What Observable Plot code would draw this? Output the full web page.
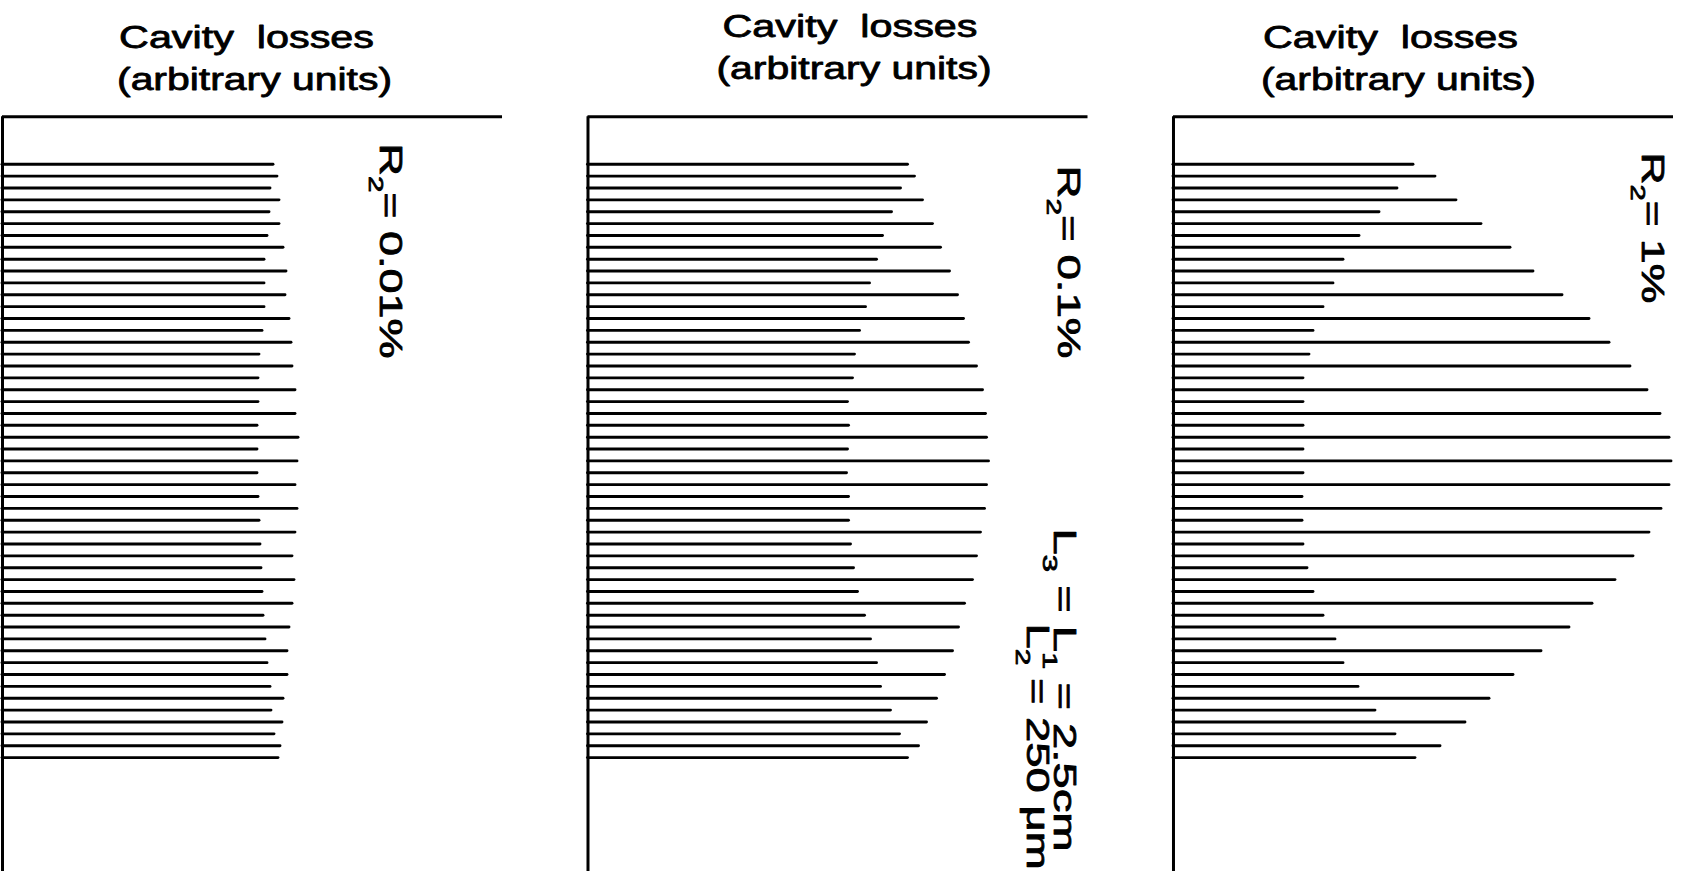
<!DOCTYPE html>
<html>
<head>
<meta charset="utf-8">
<script src="https://cdn.jsdelivr.net/npm/d3@7"></script>
<script src="https://cdn.jsdelivr.net/npm/@observablehq/plot@0.6"></script>
<style>
html, body { margin: 0; padding: 0; background: #fff; overflow: hidden; }
#chart { width: 1689px; height: 871px; position: relative; }
</style>
</head>
<body>
<div id="chart"></div>
<script>
// Mirror reflectivity of each panel
const reflectivities = ["0.01%", "0.1%", "1%"];

// Cavity losses (arbitrary units) of successive longitudinal modes, top to bottom
const lossR2_001 = [27.1, 27.5, 26.8, 27.7, 26.7, 27.7, 26.5, 28.1, 26.2, 28.4, 26.2, 28.3, 26.2, 28.7, 26.0, 28.9, 25.7, 29.0, 25.6, 29.3, 25.6, 29.3,
                    25.5, 29.6, 25.5, 29.5, 25.5, 29.3, 25.6, 29.5, 25.7, 29.3, 25.8, 29.0, 25.9, 29.2, 26.0, 29.0, 26.1, 28.7, 26.3, 28.5, 26.5, 28.5,
                    26.8, 28.1, 26.9, 28.0, 27.2, 27.8, 27.6];
const lossR2_01 = [32.0, 32.7, 31.3, 33.5, 30.4, 34.5, 29.5, 35.3, 28.9, 36.2, 28.2, 37.0, 27.8, 37.6, 27.2, 38.1, 26.7, 38.9, 26.5, 39.5, 26.0, 39.8,
                   26.1, 39.9, 26.0, 40.1, 25.9, 39.9, 26.1, 39.7, 26.1, 39.3, 26.3, 38.9, 26.6, 38.5, 27.0, 37.7, 27.7, 37.1, 28.3, 36.5, 28.9, 35.7,
                   29.3, 34.9, 30.3, 33.9, 31.2, 33.1, 32.0];
const lossR2_1 = [24.0, 26.2, 22.4, 28.3, 20.6, 30.8, 18.6, 33.7, 17.0, 36.0, 16.0, 38.9, 15.0, 41.6, 14.0, 43.6, 13.6, 45.7, 13.0, 47.4, 13.0, 48.7,
                  13.0, 49.6, 13.0, 49.8, 13.0, 49.6, 12.9, 48.8, 12.9, 47.6, 13.0, 46.0, 13.4, 44.2, 14.0, 41.9, 15.0, 39.6, 16.2, 36.8, 17.0, 34.0,
                  18.5, 31.6, 20.2, 29.2, 22.2, 26.7, 24.2];

// Texts
const titleLine1 = "Cavity  losses";
const titleLine2 = "(arbitrary units)";
const r2Labels = ["R\u2082= 0.01%", "R\u2082= 0.1%", "R\u2082= 1%"];
const lengthLabels = ["L\u2083 = L\u2081 = 2.5cm", "L\u2082 = 250 \u03bcm"];

// Tidy table built from the arrays above
const series = [lossR2_001, lossR2_01, lossR2_1];
const rows = series.flatMap((arr, p) => arr.map((loss, i) => ({panel: reflectivities[p], mode: i + 1, loss})));

const font = "'Liberation Sans', Arial, Helvetica, sans-serif";
const AXIS_ROW = -3;
const Y_END = 60.6;
const textStyle = {fontSize: 32, fill: "#000", stroke: "#000", strokeWidth: 0.8, lineAnchor: "middle"};

const plot = Plot.plot({
  width: 1689,
  height: 871,
  marginTop: 0,
  marginBottom: 0,
  marginLeft: 2,
  marginRight: 16,
  style: {fontFamily: font, color: "#000", background: "#fff", overflow: "visible"},
  fx: {domain: reflectivities, paddingInner: 0.146, paddingOuter: 0, round: false, axis: null},
  x: {domain: [0, 50], axis: null},
  y: {domain: [-12.8, Y_END], reverse: true, axis: null},
  marks: [
    // top axis of each panel
    Plot.ruleY(reflectivities, {fx: d => d, y: AXIS_ROW, stroke: "#000", strokeWidth: 3}),
    // left axis of each panel
    Plot.ruleX(reflectivities, {fx: d => d, x: 0, y1: AXIS_ROW, y2: Y_END, stroke: "#000", strokeWidth: 3}),
    // mode losses
    Plot.ruleY(rows, {fx: "panel", y: "mode", x1: 0, x2: "loss", stroke: "#000", strokeWidth: 2.9, strokeLinecap: "round"}),
    // titles
    Plot.text(reflectivities, {fx: d => d, x: [24.4, 26.2, 21.7], y: [-9.68, -10.61, -9.68], text: () => titleLine1,
      textAnchor: "middle", ...textStyle}),
    Plot.text(reflectivities, {fx: d => d, x: [25.2, 26.6, 22.5], y: [-6.14, -7.07, -6.14], text: () => titleLine2,
      textAnchor: "middle", ...textStyle}),
    // reflectivity labels (rotated)
    Plot.text(reflectivities, {fx: d => d, x: [38.8, 48.0, 47.9], y: [-0.75, 1.1, 0.0], text: (d, i) => r2Labels[i],
      rotate: 90, textAnchor: "start", ...textStyle}),
    // cavity length labels (middle panel)
    Plot.text(lengthLabels, {fx: () => reflectivities[1], x: [47.6, 44.9], y: [31.7, 39.7], text: d => d,
      rotate: 90, textAnchor: "start", ...textStyle})
  ]
});

document.getElementById("chart").appendChild(plot);

// stretch texts to match the wide lettering of the original, and draw real subscripts
const stretchLengths = new Map([
  [titleLine1, 255], [titleLine2, 275],
  [r2Labels[0], 215], [r2Labels[1], 193], [r2Labels[2], 151],
  [lengthLabels[0], 323], [lengthLabels[1], 246]
]);
const subs = {"\u2080": "0", "\u2081": "1", "\u2082": "2", "\u2083": "3"};
const SVGNS = "http://www.w3.org/2000/svg";
plot.querySelectorAll("text").forEach(t => {
  const content = t.textContent;
  const len = stretchLengths.get(content);
  if (!len) return;
  if ([...content].some(c => subs[c])) {
    while (t.firstChild) t.removeChild(t.firstChild);
    let shifted = false;
    for (const c of content) {
      const ts = document.createElementNS(SVGNS, "tspan");
      if (subs[c]) {
        ts.textContent = subs[c];
        ts.setAttribute("font-size", "21");
        ts.setAttribute("dy", "11");
        shifted = true;
      } else {
        ts.textContent = c;
        if (shifted) { ts.setAttribute("dy", "-11"); shifted = false; }
      }
      t.appendChild(ts);
    }
  }
  t.setAttribute("textLength", len);
  t.setAttribute("lengthAdjust", "spacingAndGlyphs");
});
</script>
</body>
</html>
